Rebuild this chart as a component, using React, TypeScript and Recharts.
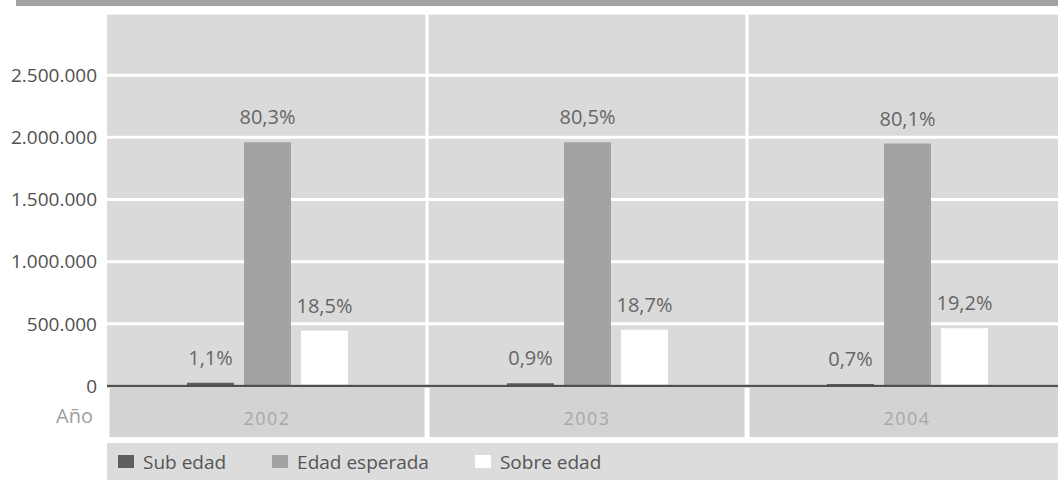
import { BarChart, Bar, XAxis, YAxis, CartesianGrid, Legend, LabelList, Label } from 'recharts'

const years = ['2002', '2003', '2004']
const subEdad = [27000, 22000, 17000]
const edadEsperada = [1960000, 1960000, 1950000]
const sobreEdad = [445000, 452000, 465000]
const subPct = ['1,1%', '0,9%', '0,7%']
const esperadaPct = ['80,3%', '80,5%', '80,1%']
const sobrePct = ['18,5%', '18,7%', '19,2%']
const yTicks = [0, 500000, 1000000, 1500000, 2000000, 2500000]

const series = [
  { key: 'sub', name: 'Sub edad', color: '#5e5e5e' },
  { key: 'esperada', name: 'Edad esperada', color: '#a3a3a3' },
  { key: 'sobre', name: 'Sobre edad', color: '#ffffff' },
]

const data = years.map((year, i) => ({
  year,
  sub: subEdad[i],
  esperada: edadEsperada[i],
  sobre: sobreEdad[i],
  subLabel: subPct[i],
  esperadaLabel: esperadaPct[i],
  sobreLabel: sobrePct[i],
}))

const FONT = '"Open Sans", sans-serif'
const Y_W = 107
const CAT_W = 320
const CHART_W = Y_W + CAT_W * years.length

const fmt = (v: number) => v.toLocaleString('de-DE')

const YearTick = (props: any) => {
  const { x, y, payload } = props
  return (
    <g>
      <rect x={x - CAT_W / 2 + 2.5} y={y + 2} width={CAT_W - 5} height={49} fill="#d3d3d3" />
      <text x={x} y={y + 39} textAnchor="middle" fill="#a8a8a8" fontSize={18} letterSpacing={1.5} fontFamily={FONT}>
        {payload.value}
      </text>
    </g>
  )
}

const LegendBox = () => (
  <div style={{ height: 43, paddingTop: 6, boxSizing: 'border-box' }}>
    <div
      style={{
        marginLeft: Y_W,
        height: 37,
        background: '#dcdcdc',
        display: 'flex',
        alignItems: 'center',
        fontFamily: FONT,
        fontSize: 19,
        color: '#555',
        paddingLeft: 11,
      }}
    >
      {series.map((s) => (
        <div key={s.key} style={{ display: 'flex', alignItems: 'center', marginRight: 46 }}>
          <span style={{ display: 'inline-block', width: 16, height: 13, background: s.color, marginRight: 9 }} />
          {s.name}
        </div>
      ))}
    </div>
  </div>
)

export default function App() {
  return (
    <div style={{ position: 'absolute', left: 0, top: 0, width: 1058, height: 480, overflow: 'hidden', background: '#fff' }}>
      <div style={{ position: 'absolute', left: 16, top: 0, right: 0, height: 6, background: '#a3a3a3' }} />
      <BarChart
        width={CHART_W}
        height={480}
        data={data}
        margin={{ top: 13, right: 0, bottom: 0, left: 0 }}
        barSize={47}
        barGap={10}
      >
        <CartesianGrid
          fill="#dadada"
          stroke="#ffffff"
          strokeWidth={3}
          verticalCoordinatesGenerator={({ offset }: any) =>
            years.slice(1).map((_, i) => offset.left + (offset.width * (i + 1)) / years.length)
          }
          verticalFill={[]}
        />
        <YAxis
          width={Y_W}
          domain={[0, 3000000]}
          ticks={yTicks}
          tickFormatter={fmt}
          axisLine={false}
          tickLine={false}
          tickSize={6}
          tickMargin={4}
          tick={{ fill: '#505050', fontSize: 19, fontFamily: FONT }}
        />
        <XAxis
          dataKey="year"
          height={51}
          axisLine={{ stroke: '#505050', strokeWidth: 2.5 }}
          tickLine={false}
          tickSize={0}
          tickMargin={0}
          tick={<YearTick />}
          interval={0}
        >
          <Label value="Año" position="left" offset={14} dy={4} fill="#a0a0a0" fontSize={20} fontFamily={FONT} />
        </XAxis>
        <Legend verticalAlign="bottom" content={<LegendBox />} />
        {series.map((s) => (
          <Bar key={s.key} dataKey={s.key} name={s.name} fill={s.color} isAnimationActive={false}>
            <LabelList
              dataKey={s.key + 'Label'}
              position="top"
              offset={18}
              fill="#666"
              fontSize={20}
              fontFamily={FONT}
            />
          </Bar>
        ))}
      </BarChart>
    </div>
  )
}
